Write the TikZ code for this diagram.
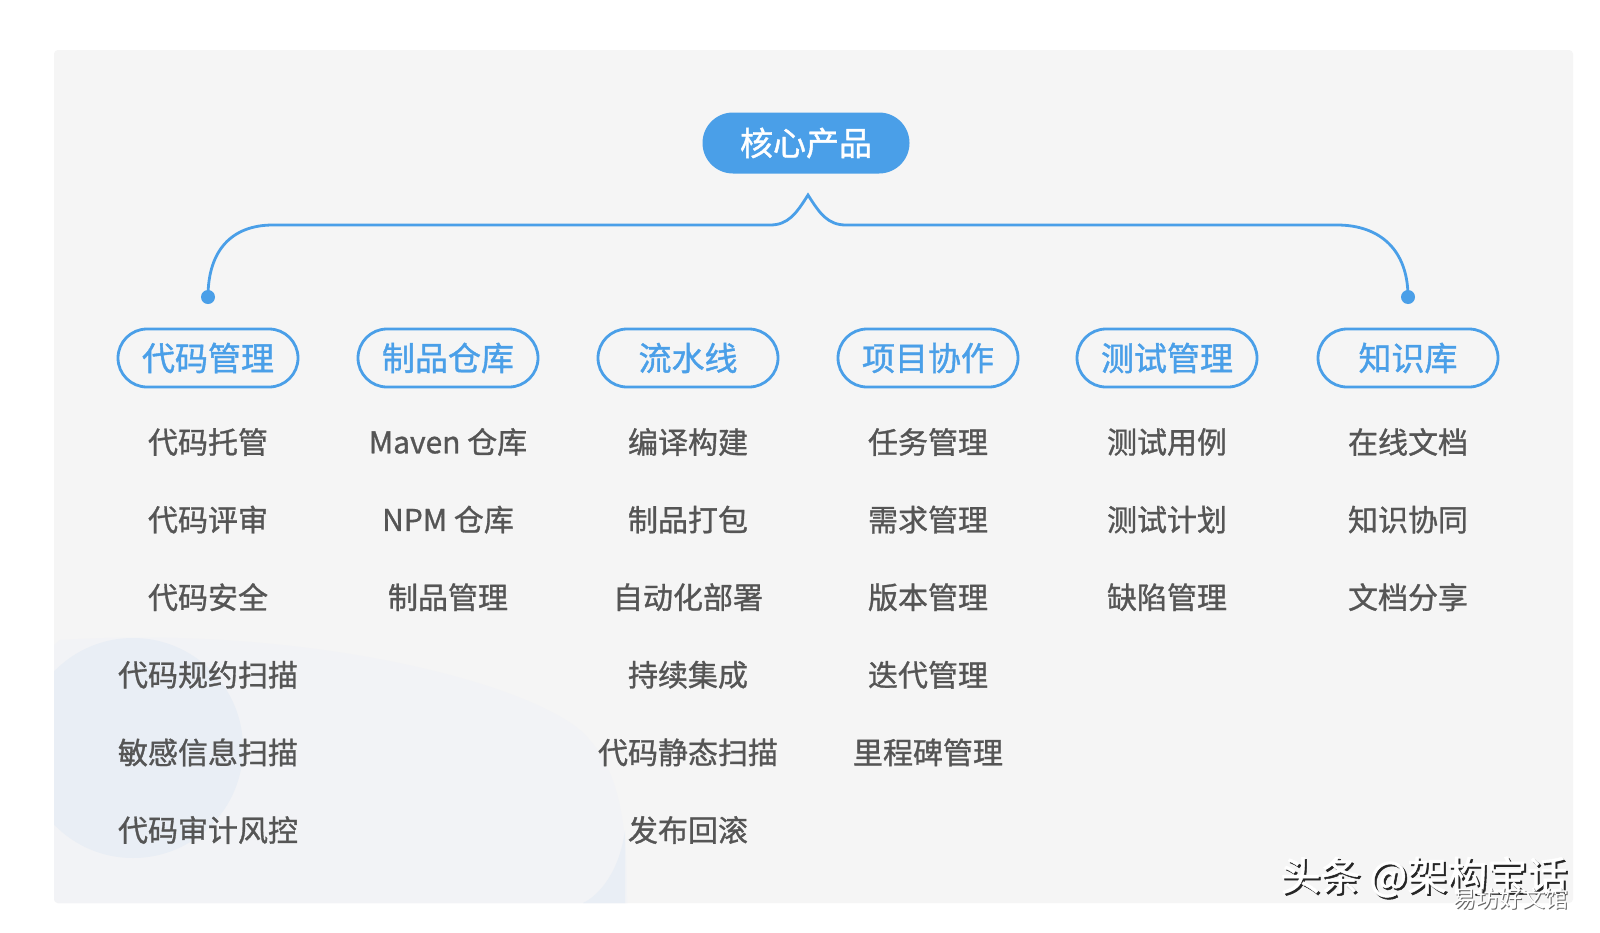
\documentclass[tikz,border=0pt]{standalone}
\usepackage{fontspec}
\setmainfont{Noto Sans CJK SC}
\newfontfamily\cjk{Noto Sans CJK SC}
\newfontfamily\cjkbold{Noto Sans CJK SC}[FakeBold=1.2]
\newfontfamily\cjkmid{Noto Sans CJK SC}[FakeBold=1.0]
\definecolor{panelbg}{HTML}{F5F5F5}
\definecolor{mainblue}{HTML}{4A9FE8}
\definecolor{itemgray}{HTML}{555555}
\definecolor{decoblue}{HTML}{E9EEF5}
\definecolor{decoblue2}{HTML}{F2F3F6}
\tikzset{
  rootbox/.style={rounded rectangle, fill=mainblue, minimum width=103.5pt, minimum height=30.5pt, text=white, font=\cjkbold\fontsize{16.5}{18}\selectfont, inner sep=0pt},
  catbox/.style={rounded rectangle, draw=mainblue, line width=1.4pt, fill=panelbg, minimum width=90pt, minimum height=29pt, text=mainblue, font=\cjkbold\fontsize{16.5}{18}\selectfont, inner sep=0pt},
  itemtext/.style={text=itemgray, font=\cjkmid\fontsize{15}{17}\selectfont, inner sep=0pt},
  branchline/.style={draw=mainblue, line width=1.4pt},
  dotmark/.style={circle, fill=mainblue, minimum size=7pt, inner sep=0pt},
  wm/.style={font=\cjkbold\fontsize{20}{22}\selectfont, inner sep=0pt, anchor=west},
}
\usetikzlibrary{shapes.misc}
\begin{document}
\begin{tikzpicture}[x=0.5pt,y=-0.5pt]
\useasboundingbox (0,0) rectangle (1600,932);
\fill[white] (0,0) rectangle (1600,932);
\fill[panelbg, rounded corners=2pt] (54,50) rectangle (1573,903);
% background decorations
\begin{scope}
\clip[rounded corners=2pt] (54,50) rectangle (1573,903);
\fill[decoblue2] (60,640) .. controls (300,625) and (520,680) .. (580,730) .. controls (625,770) and (627,840) .. (627,903) -- (54,903) -- (54,645) -- cycle;
\fill[decoblue] (133,748) circle (110);
\fill[decoblue] (625,830) .. controls (620,870) and (600,895) .. (583,903) -- (625,903) -- cycle;
\end{scope}
% root
\node[rootbox] (root) at (806,143) {核心产品};
% categories
\foreach \i/\x/\t in {1/208/代码管理, 2/448/制品仓库, 3/688/流水线, 4/928/项目协作, 5/1167/测试管理, 6/1408/知识库}{
  \node[catbox] (c\i) at (\x,358) {\t};
}
% branch
\coordinate (peak) at (808,195);
\node[dotmark] (dl) at (208,297) {};
\node[dotmark] (dr) at (1408,297) {};
\draw[branchline] (dl.center) .. controls (208,250) and (232,225) .. (273,225) -- (770,225) .. controls (788,225) and (796,214) .. (peak) .. controls (820,214) and (828,225) .. (846,225) -- (1337,225) .. controls (1380,225) and (1408,250) .. (dr.center);
% items
\foreach \j/\t in {1/代码托管, 2/代码评审, 3/代码安全, 4/代码规约扫描, 5/敏感信息扫描, 6/代码审计风控}{
  \node[itemtext] (a\j) at (208,442+77.6*\j-77.6) {\t};
}
\foreach \j/\t in {1/Maven 仓库, 2/NPM 仓库, 3/制品管理}{
  \node[itemtext] (b\j) at (448,442+77.6*\j-77.6) {\t};
}
\foreach \j/\t in {1/编译构建, 2/制品打包, 3/自动化部署, 4/持续集成, 5/代码静态扫描, 6/发布回滚}{
  \node[itemtext] (d\j) at (688,442+77.6*\j-77.6) {\t};
}
\foreach \j/\t in {1/任务管理, 2/需求管理, 3/版本管理, 4/迭代管理, 5/里程碑管理}{
  \node[itemtext] (e\j) at (928,442+77.6*\j-77.6) {\t};
}
\foreach \j/\t in {1/测试用例, 2/测试计划, 3/缺陷管理}{
  \node[itemtext] (f\j) at (1167,442+77.6*\j-77.6) {\t};
}
\foreach \j/\t in {1/在线文档, 2/知识协同, 3/文档分享}{
  \node[itemtext] (g\j) at (1408,442+77.6*\j-77.6) {\t};
}
% watermarks
\node[wm, text=black!85] (wm1s) at (1282,879) {头条 @架构宝话};
\node[wm, text=white] (wm1) at (1280,877) {头条 @架构宝话};
\node[wm, font=\cjk\fontsize{11.5}{13}\selectfont, text=black!60] (wm2s) at (1454,900) {易坊好文馆};
\node[wm, font=\cjk\fontsize{11.5}{13}\selectfont, text=white] (wm2) at (1453,899) {易坊好文馆};
\end{tikzpicture}
\end{document}
